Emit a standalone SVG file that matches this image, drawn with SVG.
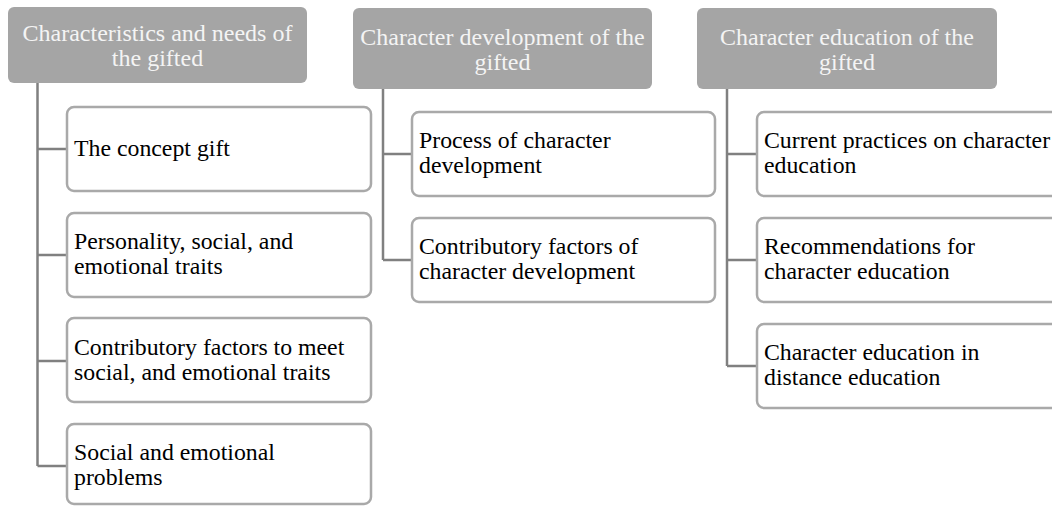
<svg xmlns="http://www.w3.org/2000/svg" width="1052" height="506" viewBox="0 0 1052 506">
<style>
.hdr{fill:#a5a5a5}
.ht{font-family:"Liberation Serif",serif;font-size:24px;fill:#f4f4f4;text-anchor:middle}
.box{fill:#ffffff;stroke:#a9a9a9;stroke-width:2.5}
.bt{font-family:"Liberation Serif",serif;font-size:23.8px;fill:#000000}
.con{fill:none;stroke:#808080;stroke-width:2.5}
</style>
<rect width="1052" height="506" fill="#ffffff"/>
<g id="connectors">
<path class="con" d="M37.5 83 V466 M37.5 149 H67 M37.5 255 H67 M37.5 361 H67 M37.5 466 H67"/>
<path class="con" d="M383 89 V260 M383 154 H412 M383 260 H412"/>
<path class="con" d="M727 89 V366 M727 154 H757 M727 260 H757 M727 366 H757"/>
</g>
<g id="h1"><rect class="hdr" x="8" y="7" width="299" height="76" rx="6"/><text class="ht" x="157.5" y="41">Characteristics and needs of</text><text class="ht" x="157.5" y="66">the gifted</text></g>
<g id="h2"><rect class="hdr" x="353" y="8" width="299" height="81" rx="6"/><text class="ht" x="502.5" y="44.5">Character development of the</text><text class="ht" x="502.5" y="69.5">gifted</text></g>
<g id="h3"><rect class="hdr" x="697" y="8" width="300" height="81" rx="6"/><text class="ht" x="847" y="44.5">Character education of the</text><text class="ht" x="847" y="69.5">gifted</text></g>
<g id="c1a"><rect class="box" x="67" y="107" width="304" height="84" rx="7"/><text class="bt" x="74" y="156">The concept gift</text></g>
<g id="c1b"><rect class="box" x="67" y="213" width="304" height="84" rx="7"/><text class="bt" x="74" y="249">Personality, social, and</text><text class="bt" x="74" y="274">emotional traits</text></g>
<g id="c1c"><rect class="box" x="67" y="318" width="304" height="84" rx="7"/><text class="bt" x="74" y="355">Contributory factors to meet</text><text class="bt" x="74" y="380">social, and emotional traits</text></g>
<g id="c1d"><rect class="box" x="67" y="424" width="304" height="80" rx="7"/><text class="bt" x="74" y="460">Social and emotional</text><text class="bt" x="74" y="485">problems</text></g>
<g id="c2a"><rect class="box" x="412" y="112" width="303" height="84" rx="7"/><text class="bt" x="419" y="148">Process of character</text><text class="bt" x="419" y="173">development</text></g>
<g id="c2b"><rect class="box" x="412" y="218" width="303" height="84" rx="7"/><text class="bt" x="419" y="254">Contributory factors of</text><text class="bt" x="419" y="279">character development</text></g>
<g id="c3a"><rect class="box" x="757" y="112" width="303" height="84" rx="7"/><text class="bt" x="764" y="148">Current practices on character</text><text class="bt" x="764" y="173">education</text></g>
<g id="c3b"><rect class="box" x="757" y="218" width="303" height="84" rx="7"/><text class="bt" x="764" y="254">Recommendations for</text><text class="bt" x="764" y="279">character education</text></g>
<g id="c3c"><rect class="box" x="757" y="324" width="303" height="84" rx="7"/><text class="bt" x="764" y="360">Character education in</text><text class="bt" x="764" y="385">distance education</text></g>
</svg>
